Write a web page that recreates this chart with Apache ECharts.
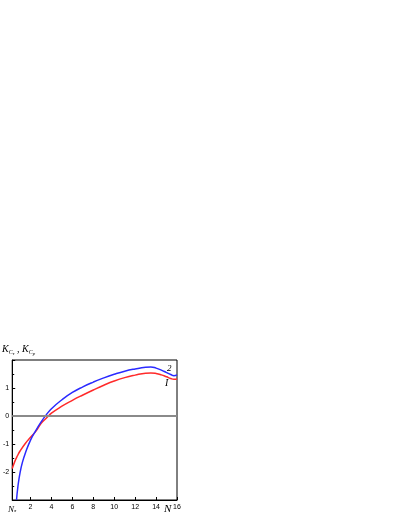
<!DOCTYPE html>
<html>
<head>
<meta charset="utf-8">
<script src="https://cdn.jsdelivr.net/npm/echarts@6/dist/echarts.min.js"></script>
<style>html,body{margin:0;padding:0;background:#fff}#c{width:401px;height:518px}</style>
</head>
<body>
<div id="c"></div>
<script>
var xMin = 0.25, xMax = 16;
var xTicks = [2, 4, 6, 8, 10, 12, 14, 16];
var yTicks = [-2, -1, 0, 1];
// curve 1 (red)
var curve1X = [0.25, 0.5, 0.75, 1.0, 1.5, 2.0, 2.5, 3.0, 3.5, 4.0, 5, 6, 7, 8, 9, 10, 11, 12, 13, 13.5, 14, 14.5, 15, 15.4, 15.7, 16];
var curve1Y = [-1.88, -1.62, -1.42, -1.25, -0.98, -0.76, -0.55, -0.27, -0.08, 0.1, 0.35, 0.56, 0.75, 0.93, 1.1, 1.25, 1.37, 1.46, 1.53, 1.54, 1.52, 1.47, 1.40, 1.34, 1.31, 1.32];
// curve 2 (blue)
var curve2X = [0.66, 0.8, 1.0, 1.25, 1.5, 2.0, 2.5, 3.0, 3.5, 4.0, 5, 6, 7, 8, 9, 10, 11, 12, 13, 13.5, 14, 14.5, 15, 15.4, 15.7, 16];
var curve2Y = [-3.0, -2.5, -2.02, -1.62, -1.33, -0.86, -0.52, -0.22, 0.04, 0.26, 0.58, 0.84, 1.04, 1.21, 1.36, 1.49, 1.6, 1.68, 1.74, 1.75, 1.71, 1.64, 1.55, 1.48, 1.44, 1.47];

function pairs(xs, ys) { return xs.map(function (x, i) { return [x, ys[i]]; }); }

var chart = echarts.init(document.getElementById('c'));
chart.setOption({
  animation: false,
  grid: { left: 11, right: 224, top: 360, bottom: 18, show: true, borderColor: '#000', borderWidth: 1, backgroundColor: 'transparent' },
  xAxis: {
    type: 'value', min: xMin, max: xMax,
    axisLine: { show: true, onZero: false, lineStyle: { color: '#000', width: 1 } },
    axisTick: { show: true, inside: true, length: 3, customValues: xTicks, lineStyle: { color: '#000' } },
    axisLabel: {
      customValues: [xMin].concat(xTicks), margin: 4, fontSize: 7, color: '#000', fontFamily: 'Liberation Sans',
      formatter: function (v) { return Math.abs(v - xMin) < 1e-6 ? '{n|N}{s|*}' : String(v); },
      rich: { n: { fontFamily: 'Liberation Serif', fontStyle: 'italic', fontSize: 9, color: '#000' }, s: { fontSize: 6, color: '#000', verticalAlign: 'bottom', padding: [5, 0, 0, 0] } }
    },
    splitLine: { show: false }
  },
  yAxis: {
    type: 'value', min: -3, max: 2, interval: 1,
    axisLine: { show: true, onZero: false, lineStyle: { color: '#000', width: 1 } },
    axisTick: { show: true, inside: true, length: 3, lineStyle: { color: '#000' } },
    minorTick: { show: true, splitNumber: 2, length: 2, lineStyle: { color: '#000' } },
    axisLabel: { customValues: yTicks, margin: 3, fontSize: 7, color: '#000', fontFamily: 'Liberation Sans' },
    splitLine: { show: false }
  },
  series: [
    {
      type: 'line', data: pairs(curve1X, curve1Y), smooth: 0.5, symbol: 'none', clip: true,
      lineStyle: { color: '#ff2a2a', width: 1.5 },
      markLine: {
        silent: true, symbol: 'none', label: { show: false },
        lineStyle: { color: '#8a8a8a', width: 2, type: 'solid' },
        data: [{ yAxis: 0 }]
      }
    },
    {
      type: 'line', data: pairs(curve2X, curve2Y), smooth: 0.5, symbol: 'none', clip: true,
      lineStyle: { color: '#2a2aff', width: 1.5 }
    }
  ],
  graphic: [
    {
      type: 'text', left: 2, top: 344,
      style: {
        text: '{k|K}{c|C}{t|τ}{k| , }{k|K}{c|C}{t|p}',
        rich: {
          k: { fontFamily: 'Liberation Serif', fontStyle: 'italic', fontSize: 10, fill: '#000' },
          c: { fontFamily: 'Liberation Serif', fontStyle: 'italic', fontSize: 6, fill: '#000', padding: [6, 0, 0, 0] },
          t: { fontFamily: 'Liberation Serif', fontStyle: 'italic', fontSize: 5, fill: '#000', padding: [9, 0, 0, 0] }
        }
      }
    },
    { type: 'text', left: 164, top: 504, style: { text: 'N', fontFamily: 'Liberation Serif', fontStyle: 'italic', fontSize: 11, fill: '#000' } },
    { type: 'text', left: 167, top: 364, style: { text: '2', fontFamily: 'Liberation Serif', fontStyle: 'italic', fontSize: 9, fill: '#000' } },
    { type: 'text', left: 165, top: 378, style: { text: 'I', fontFamily: 'Liberation Serif', fontStyle: 'italic', fontSize: 10, fill: '#000' } }
  ]
});
</script>
</body>
</html>
